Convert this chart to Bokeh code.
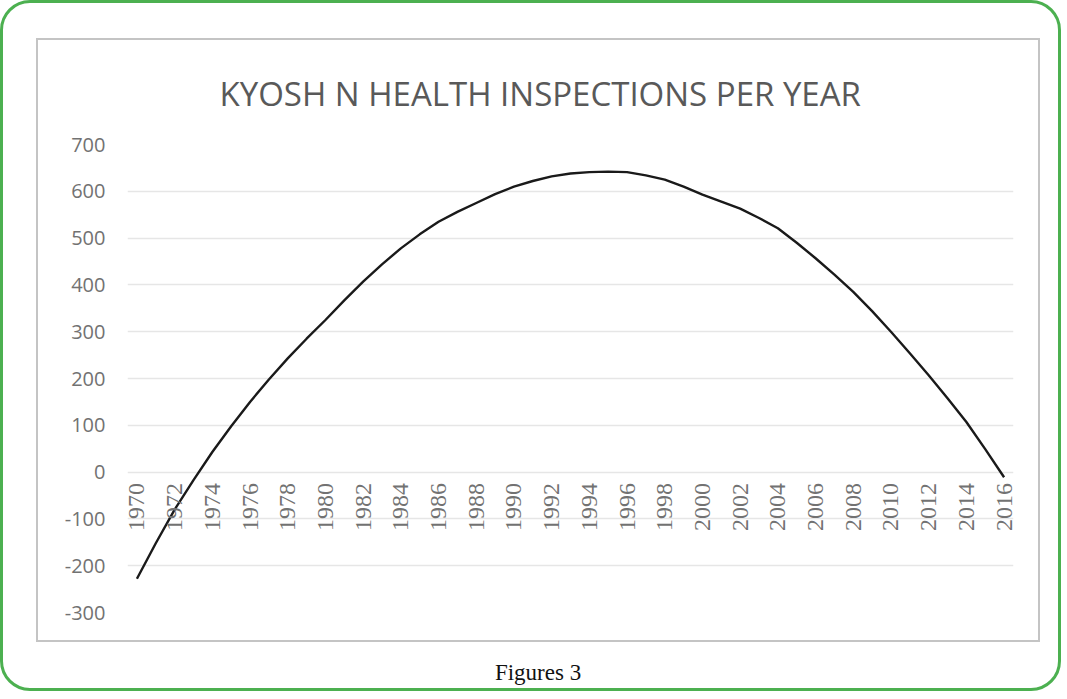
import math
from bokeh.plotting import figure
from bokeh.models import Range1d, FixedTicker, Div, ColumnDataSource
from bokeh.layouts import column
from bokeh.embed import file_html
from bokeh.resources import INLINE

title_text = "KYOSH N HEALTH INSPECTIONS PER YEAR"
caption_text = "Figures 3"

years = list(range(1970, 2017))
inspections = [
    -228, -152, -80, -17, 43, 98, 150, 198, 243, 285,
    325, 367, 407, 444, 478, 508, 535, 556, 575, 594,
    610, 622, 632, 638, 641, 642, 641, 634, 625, 610,
    593, 578, 563, 543, 521, 490, 457, 422, 385, 344,
    300, 254, 207, 158, 107, 49, -11,
]
x_tick_years = years[::2]
y_ticks = [-300, -200, -100, 0, 100, 200, 300, 400, 500, 600, 700]

src = ColumnDataSource(data=dict(year=years, value=inspections))

p = figure(
    width=1004, height=604,
    x_range=Range1d(years[0] - 0.5, years[-1] + 0.5),
    y_range=Range1d(y_ticks[0], y_ticks[-1]),
    output_backend="svg", toolbar_location=None,
    min_border_left=89, min_border_right=29,
    min_border_top=104, min_border_bottom=32,
    background_fill_color="white", border_fill_color="white",
)
p.outline_line_color = None
p.margin = (35, 0, 0, 33)
p.styles = {"border": "2px solid #c4c4c4"}

p.title.text = title_text
p.title.align = "left"
p.title.offset = 92
p.title.text_font = "Open Sans"
p.title.text_font_style = "normal"
p.title.text_font_size = "33px"
p.title.text_color = "#595959"
p.title.standoff = 57

p.line("year", "value", source=src, line_color="#1a1a1a", line_width=2.4)

p.xgrid.grid_line_color = None
p.ygrid.grid_line_color = "#e6e6e6"
p.ygrid.grid_line_width = 1.5
p.ygrid.ticker = FixedTicker(ticks=y_ticks)

p.yaxis.ticker = FixedTicker(ticks=y_ticks)
p.yaxis.major_label_overrides = {t: str(t) for t in y_ticks}
p.yaxis.axis_line_color = None
p.yaxis.major_tick_line_color = None
p.yaxis.major_tick_out = 0
p.yaxis.minor_tick_line_color = None
p.yaxis.major_label_text_font = "Open Sans"
p.yaxis.major_label_text_font_size = "20px"
p.yaxis.major_label_text_color = "#727272"
p.yaxis.major_label_standoff = 22

p.xaxis.ticker = FixedTicker(ticks=x_tick_years)
p.xaxis.fixed_location = 0
p.xaxis.axis_line_color = None
p.xaxis.major_tick_line_color = None
p.xaxis.major_tick_out = 0
p.xaxis.minor_tick_line_color = None
p.xaxis.major_label_orientation = math.pi / 2
p.xaxis.major_label_text_font = "'Liberation Serif', serif"
p.xaxis.major_label_text_font_size = "24px"
p.xaxis.major_label_text_color = "#727272"
p.xaxis.major_label_standoff = 11

caption = Div(
    text=caption_text, width=1004, height=34,
    styles={"font-family": "Liberation Serif", "font-size": "23px",
            "color": "#111111", "text-align": "center"},
)
caption.margin = (15, 0, 0, 33)

layout = column(p, caption, width=1061, height=691)
layout.styles = {"border": "3px solid #4cb050", "border-radius": "30px",
                 "background": "white"}

open("out.html", "w").write(file_html(layout, INLINE))
